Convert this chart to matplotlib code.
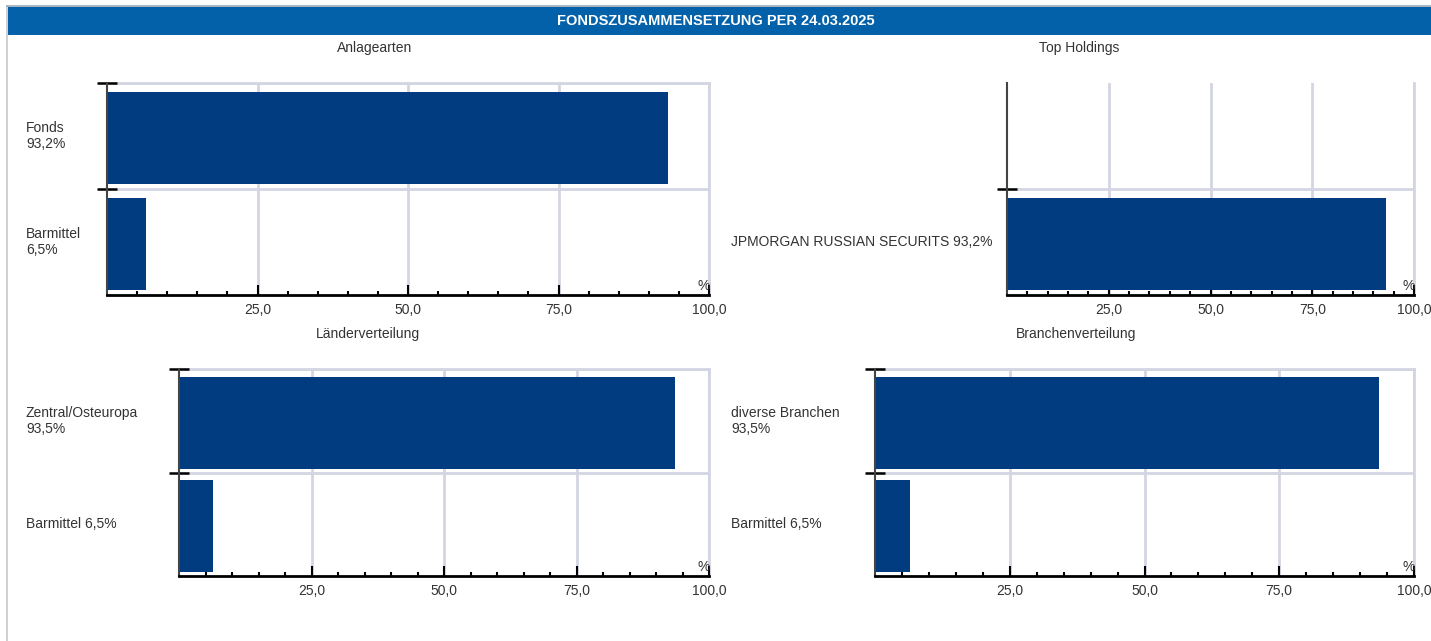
import matplotlib
matplotlib.use("Agg")
import matplotlib.pyplot as plt
from matplotlib.patches import Rectangle
from matplotlib.lines import Line2D
from matplotlib.ticker import FixedLocator, FuncFormatter
import matplotlib.transforms as mtransforms

plt.rcParams['font.family'] = ['Liberation Sans', 'DejaVu Sans']

# ---- data ----
title_text = "FONDSZUSAMMENSETZUNG PER 24.03.2025"

anlage_names = ["Fonds", "Barmittel"]
anlage_values = [93.2, 6.5]

holdings_names = ["", "JPMORGAN RUSSIAN SECURITS"]
holdings_values = [None, 93.2]

laender_names = ["Zentral/Osteuropa", "Barmittel"]
laender_values = [93.5, 6.5]

branchen_names = ["diverse Branchen", "Barmittel"]
branchen_values = [93.5, 6.5]

x_ticks = [25, 50, 75, 100]

# ---- style ----
W, H = 1431, 641
BAR = "#003C7F"
HEAD = "#0261A9"
GRID = "#D3D6E2"
TXT = "#333333"

fig = plt.figure(figsize=(W / 100, H / 100), dpi=100)


def fx(px):
    return px / W


def fy(py):
    return 1 - py / H


# outer frame and header band
fig.add_artist(Line2D([fx(7), fx(7)], [0, fy(6)], color="#C8C8C8", lw=1.2))
fig.add_artist(Line2D([fx(7), fx(1431)], [fy(6), fy(6)], color="#9AA8B8", lw=1.2))
fig.add_artist(Rectangle((fx(7.5), fy(35)), fx(1431) - fx(7.5), fy(7) - fy(35),
                         transform=fig.transFigure, color=HEAD, lw=0))
fig.text(fx(716), fy(21), title_text, color="white", fontsize=10.5,
         fontweight="bold", ha="center", va="center")


def fmt_pct(v):
    return f"{v:.1f}".replace(".", ",")


def panel(box, title, title_xy, names, values, label_x, wrap, top_line=True,
          boundary_ticks=(-0.5, 0.5), bar_h=0.87):
    l, t, r, b = box
    ax = fig.add_axes([fx(l), fy(b), fx(r) - fx(l), fy(t) - fy(b)])
    n = len(names)
    for i, (name, v) in enumerate(zip(names, values)):
        if v is None:
            continue
        ax.barh(i + 0.02, v, height=bar_h, color=BAR, zorder=2)
        sep = "\n" if wrap[i] else " "
        trans = mtransforms.blended_transform_factory(fig.transFigure, ax.transData)
        ax.text(fx(label_x), i, f"{name}{sep}{fmt_pct(v)}%", transform=trans,
                ha="left", va="center", fontsize=10, color=TXT,
                linespacing=1.15)
    ax.set_xlim(0, 100)
    ax.set_ylim(n - 0.5, -0.5)

    # spines: top and right act as grid lines, kept beneath the ticks
    for s in ("right", "top"):
        ax.spines[s].set_color(GRID)
        ax.spines[s].set_linewidth(2)
        ax.spines[s].set_zorder(0.2)
    ax.spines["top"].set_visible(top_line)
    ax.spines["left"].set_color("#444444")
    ax.spines["left"].set_linewidth(1.5)
    ax.spines["bottom"].set_color("black")
    ax.spines["bottom"].set_linewidth(2)

    # x axis
    ax.xaxis.set_major_locator(FixedLocator(x_ticks))
    ax.xaxis.set_minor_locator(FixedLocator([m for m in range(5, 100, 5) if m % 25]))
    ax.xaxis.set_major_formatter(FuncFormatter(lambda v, p: fmt_pct(v)))
    ax.tick_params(axis="x", which="major", direction="in", length=7, width=1.5,
                   color="black", labelsize=10, labelcolor=TXT, pad=6)
    ax.tick_params(axis="x", which="minor", direction="in", length=3, width=1.5,
                   color="black")
    ax.grid(axis="x", which="major", color=GRID, lw=2, zorder=0)

    # y axis: ticks at the category boundaries
    ax.yaxis.set_major_locator(FixedLocator(list(boundary_ticks)))
    ax.yaxis.set_major_formatter(FuncFormatter(lambda v, p: ""))
    ax.tick_params(axis="y", which="major", direction="inout", length=14,
                   width=1.8, color="black")
    ax.grid(axis="y", which="major", color=GRID, lw=2, zorder=0)
    ax.set_axisbelow(True)

    # unit marker
    ax.annotate("%", xy=(1, 0), xycoords="axes fraction", xytext=(-5, 2),
                textcoords="offset pixels", ha="center", va="bottom",
                fontsize=10, color=TXT)
    fig.text(fx(title_xy[0]), fy(title_xy[1]), title, ha="center", va="center",
             fontsize=10, color=TXT)
    return ax


panel((107, 83, 709, 295), "Anlagearten", (375, 48), anlage_names, anlage_values,
      26, [True, True])
panel((1007, 83, 1414, 295), "Top Holdings", (1079, 48), holdings_names,
      holdings_values, 731, [False, False], top_line=False, boundary_ticks=(0.5,))
panel((179, 369, 709, 576), "Länderverteilung", (368, 334), laender_names,
      laender_values, 26, [True, False], bar_h=0.89)
panel((875, 369, 1414, 576), "Branchenverteilung", (1076, 334), branchen_names,
      branchen_values, 731, [True, False], bar_h=0.89)

fig.savefig("out.png", dpi=100)
